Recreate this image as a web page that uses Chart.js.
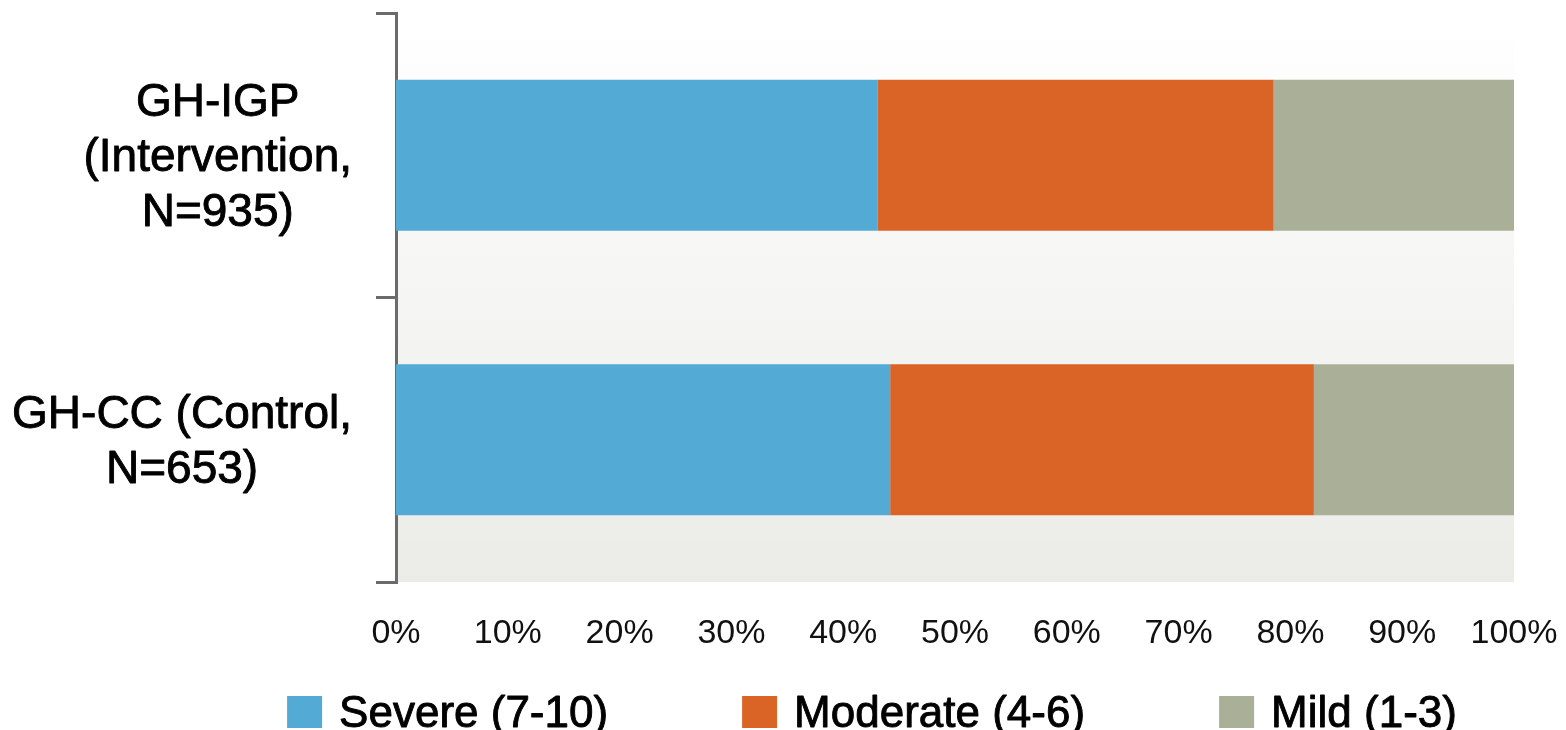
<!DOCTYPE html>
<html>
<head>
<meta charset="utf-8">
<title>Pain severity by group</title>
<script src="https://cdn.jsdelivr.net/npm/chart.js@4"></script>
<style>
  html, body { margin: 0; padding: 0; background: #ffffff; }
  #wrap { width: 1566px; height: 730px; }
</style>
</head>
<body>
<div id="wrap"><canvas id="chart" width="1566" height="730"></canvas></div>
<script>
// Groups (one bar each), with their label lines
const groups = [
  ['GH-IGP', '(Intervention,', 'N=935)'],
  ['GH-CC (Control,', 'N=653)']
];

// Share of patients per severity band, in percent
const severe   = [43.1, 44.2];
const moderate = [35.4, 37.9];
const mild     = [21.5, 17.9];

const seriesNames  = ['Severe (7-10)', 'Moderate (4-6)', 'Mild (1-3)'];
const seriesColors = ['#53aad5', '#da6426', '#aab098'];

const xTicks = [0, 10, 20, 30, 40, 50, 60, 70, 80, 90, 100];

const FONT = '"Liberation Sans", Arial, Helvetica, sans-serif';
const AXIS_GREY = '#6b6b6b';

// Text with a slightly heavier stroke than the regular face
function heavyText(ctx, text, x, y) {
  ctx.fillText(text, x, y);
  ctx.strokeText(text, x, y);
}

// Soft vertical gradient behind the plotting area
const plotBackground = {
  id: 'plotBackground',
  beforeDraw(chart) {
    const { ctx, chartArea: a } = chart;
    const g = ctx.createLinearGradient(0, a.top, 0, a.bottom);
    g.addColorStop(0, '#ffffff');
    g.addColorStop(1, '#ebece7');
    ctx.save();
    ctx.fillStyle = g;
    ctx.fillRect(a.left, a.top, a.right - a.left, a.bottom - a.top);
    ctx.restore();
  }
};

// Multi-line group labels: each block centred on itself, blocks right-aligned
const groupLabels = {
  id: 'groupLabels',
  afterDraw(chart) {
    const { ctx } = chart;
    const yScale = chart.scales.y;
    const rightEdge = 352;
    const lineGap = 55;
    const capHalf = 16;
    ctx.save();
    ctx.font = '46px ' + FONT;
    ctx.fillStyle = '#000000';
    ctx.strokeStyle = '#000000';
    ctx.lineWidth = 0.9;
    ctx.lineJoin = 'round';
    ctx.textAlign = 'center';
    ctx.textBaseline = 'alphabetic';
    chart.data.labels.forEach((lines, i) => {
      const cy = yScale.getPixelForValue(i);
      const widest = Math.max(...lines.map(l => ctx.measureText(l).width));
      const cx = rightEdge - widest / 2;
      const n = lines.length;
      lines.forEach((line, k) => {
        const y = cy + (k - (n - 1) / 2) * lineGap + capHalf;
        heavyText(ctx, line, cx, y);
      });
    });
    ctx.restore();
  }
};

// Legend row along the bottom, built from the datasets
const bottomLegend = {
  id: 'bottomLegend',
  afterDraw(chart) {
    const { ctx } = chart;
    const centerX = 872;
    const baseline = 727;
    const boxW = 35, boxH = 32, boxGap = 17, itemGap = 134;
    ctx.save();
    ctx.font = '44px ' + FONT;
    ctx.textBaseline = 'alphabetic';
    ctx.textAlign = 'left';
    ctx.strokeStyle = '#000000';
    ctx.lineWidth = 0.9;
    ctx.lineJoin = 'round';
    const items = chart.data.datasets.map(ds => ({
      text: ds.label,
      color: ds.backgroundColor,
      w: boxW + boxGap + ctx.measureText(ds.label).width
    }));
    const total = items.reduce((s, it) => s + it.w, 0) + itemGap * (items.length - 1);
    let x = centerX - total / 2;
    items.forEach(it => {
      ctx.fillStyle = it.color;
      ctx.fillRect(x, baseline - boxH + 1, boxW, boxH);
      ctx.fillStyle = '#000000';
      heavyText(ctx, it.text, x + boxW + boxGap, baseline);
      x += it.w + itemGap;
    });
    ctx.restore();
  }
};

const bandValues = [severe, moderate, mild];

new Chart(document.getElementById('chart'), {
  type: 'bar',
  data: {
    labels: groups,
    datasets: seriesNames.map((name, i) => ({
      label: name,
      data: bandValues[i],
      backgroundColor: seriesColors[i],
      borderWidth: 0,
      categoryPercentage: 1.0,
      barPercentage: 0.53
    }))
  },
  options: {
    indexAxis: 'y',
    responsive: false,
    animation: false,
    devicePixelRatio: 1,
    layout: { padding: { top: 13, right: 52, bottom: 78, left: 0 } },
    plugins: {
      legend: { display: false },
      tooltip: { enabled: false },
      title: { display: false }
    },
    scales: {
      x: {
        stacked: true,
        min: 0,
        max: 100,
        afterBuildTicks(scale) {
          scale.ticks = xTicks.map(v => ({ value: v }));
        },
        afterFit(scale) {
          scale.height = 70;
          scale.paddingLeft = 0;
          scale.paddingRight = 0;
        },
        grid: { display: false, drawTicks: false },
        border: { display: false },
        ticks: {
          padding: 31,
          color: '#111111',
          font: { family: FONT, size: 34 },
          maxRotation: 0,
          autoSkip: false,
          callback: v => v + '%'
        }
      },
      y: {
        stacked: true,
        offset: true,
        z: 1,
        afterFit(scale) {
          scale.width = 396;
          scale.paddingTop = 0;
          scale.paddingBottom = 0;
        },
        grid: {
          display: true,
          offset: true,
          drawOnChartArea: false,
          drawTicks: true,
          tickLength: 20,
          lineWidth: 3,
          color: AXIS_GREY
        },
        border: { display: true, color: AXIS_GREY, width: 3 },
        ticks: { display: false }
      }
    }
  },
  plugins: [plotBackground, groupLabels, bottomLegend]
});
</script>
</body>
</html>
